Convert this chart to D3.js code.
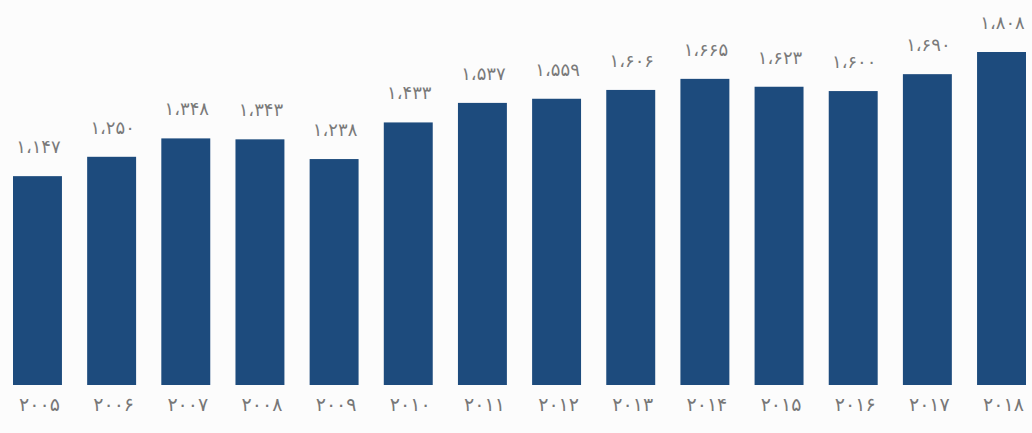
<!DOCTYPE html>
<html>
<head>
<meta charset="utf-8">
<script src="https://cdn.jsdelivr.net/npm/d3@7"></script>
<style>
  body { margin: 0; background: #fcfcfc; }
  text { font-family: "DejaVu Sans", sans-serif; }
</style>
</head>
<body>
<div id="bar-chart"></div>
<script>
//  years on the x axis and the value for each year
var years = [2005, 2006, 2007, 2008, 2009, 2010, 2011, 2012, 2013, 2014, 2015, 2016, 2017, 2018];
var values = [1147, 1250, 1348, 1343, 1238, 1433, 1537, 1559, 1606, 1665, 1623, 1600, 1690, 1808];

var width = 1032,
    height = 433,
    padding = {left: 13, right: 6, top: 52, bottom: 48};

var svg = d3.select('#bar-chart')
  .append('svg')
  .attr('width', width)
  .attr('height', height)
  .style('background', '#fcfcfc');

var xScale = d3.scaleBand()
  .domain(years)
  .range([padding.left, width - padding.right])
  .paddingInner(0.34)
  .paddingOuter(0);

// the bars don't start from zero exactly in the original
var yScale = d3.scaleLinear()
  .domain([35, d3.max(values)])
  .range([height - padding.bottom, padding.top]);

// western digits -> persian digits
var fa = '۰۱۲۳۴۵۶۷۸۹';
function toFa(s) {
  return String(s).replace(/[0-9]/g, function (d) { return fa[+d]; }).replace(/,/g, '،');
}
var fmt = d3.format(',');

var xAxis = d3.axisBottom(xScale)
  .tickSize(0)
  .tickPadding(13)
  .tickFormat(function (d) { return toFa(d); });

svg.selectAll('rect').data(values)
  .enter().append('rect')
  .attr('fill', '#1d4b7d')
  .attr('x', function (d, i) { return xScale(years[i]); })
  .attr('width', xScale.bandwidth())
  .attr('y', function (d) { return yScale(d); })
  .attr('height', function (d) { return yScale.range()[0] - yScale(d); });

svg.selectAll('.val').data(values)
  .enter().append('text')
  .attr('class', 'val')
  .attr('x', function (d, i) { return xScale(years[i]) + xScale.bandwidth() / 2 + 1; })
  .attr('y', function (d) { return yScale(d) - 23; })
  .attr('text-anchor', 'middle')
  .attr('direction', 'ltr')
  .attr('fill', '#7a7a7a')
  .style('font-size', '18px')
  .style('letter-spacing', '0.8px')
  .text(function (d) { return toFa(fmt(d)); });

var gx = svg.append('g')
  .attr('transform', 'translate(0,' + (height - padding.bottom) + ')')
  .call(xAxis);
gx.select('.domain').remove();
gx.selectAll('text')
  .attr('fill', '#777')
  .attr('dx', '2')
  .style('font-size', '19px')
  .style('letter-spacing', '2px');
</script>
</body>
</html>
